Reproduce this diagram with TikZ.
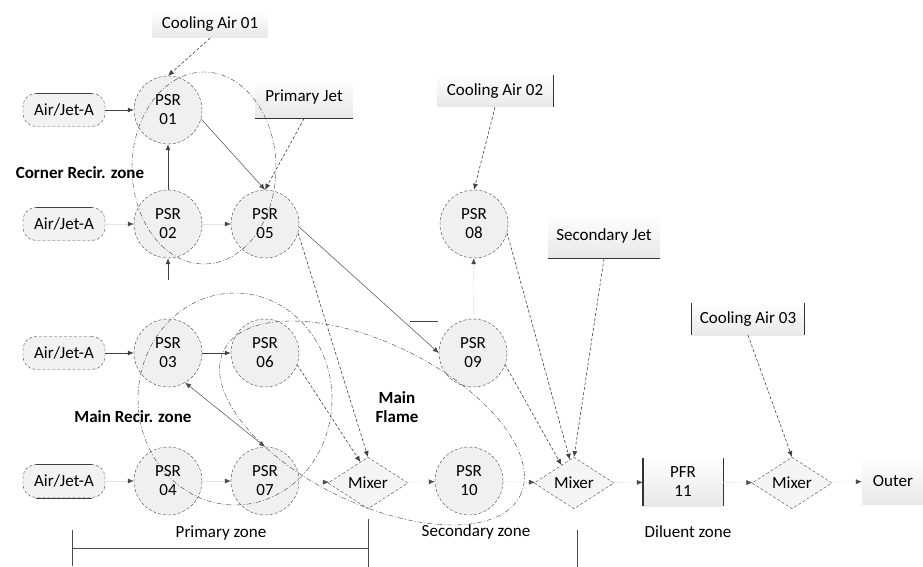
\documentclass[tikz,border=0pt]{standalone}
\usepackage{fontspec}
\setmainfont{Carlito}
\usetikzlibrary{shapes.geometric,arrows.meta}

\begin{document}
\begin{tikzpicture}[x=1pt,y=1pt,font=\fontsize{17}{19}\selectfont,
  >={Latex[length=6pt,width=5pt]},
  psr/.style={circle,draw=gray!55!black,densely dashed,fill=gray!12,minimum size=68pt,inner sep=0pt,align=center},
  mixer/.style={diamond,draw=gray!55!black,densely dashed,fill=gray!8,minimum width=80pt,minimum height=46pt,inner sep=0pt},
  feed/.style={rectangle,rounded corners=13pt,draw=gray!55!black,densely dashed,fill=gray!10,minimum width=82pt,minimum height=33pt,inner sep=0pt},
  src/.style={rectangle,top color=white,bottom color=gray!18,inner sep=0pt,align=center},
  zone/.style={draw=gray!50!black,thin,dash pattern=on 5pt off 2pt on 1pt off 2pt},
  flow/.style={->,draw=black!75,line width=0.8pt},
  thinflow/.style={->,draw=gray!60!black,line width=0.5pt},
  jetflow/.style={->,draw=gray!50!black,densely dashed,line width=0.6pt},
  faint/.style={-{Latex[length=6pt,width=5pt,color=black!70]},draw=gray!20},
  bar/.style={line width=1.4pt,draw=gray!40!black},
  lbl/.style={font=\fontsize{17}{19}\selectfont\bfseries,align=center}]
   \useasboundingbox (0,0) rectangle (923,-567);
   \node[src,minimum width=115pt,minimum height=28pt] (ca1) at (210,-24) {Cooling Air 01};
   \node[src,minimum width=97pt,minimum height=43pt] (pjet) at (304,-97) {Primary Jet};
   \node[src,minimum width=116pt,minimum height=32pt] (ca2) at (495,-91) {Cooling Air 02};
   \node[src,minimum width=112pt,minimum height=45pt] (sjet) at (604,-236) {Secondary Jet};
   \node[src,minimum width=113pt,minimum height=32pt] (ca3) at (748,-319) {Cooling Air 03};
   \node[src,minimum width=80pt,minimum height=48pt] (pfr11) at (683,-482) {PFR\\11};
   \node[src,minimum width=62pt,minimum height=47pt] (outer) at (893,-481) {Outer};
   \node[feed] (feed1) at (64,-110) {Air/Jet-A};
   \node[feed] (feed2) at (64,-224) {Air/Jet-A};
   \node[feed] (feed3) at (64,-353) {Air/Jet-A};
   \node[feed] (feed4) at (64,-481) {Air/Jet-A};
   \node[psr] (psr01) at (168,-110) {PSR\\01};
   \node[psr] (psr02) at (168,-224) {PSR\\02};
   \node[psr] (psr03) at (168,-353) {PSR\\03};
   \node[psr] (psr04) at (168,-481) {PSR\\04};
   \node[psr] (psr05) at (265,-224) {PSR\\05};
   \node[psr] (psr06) at (265,-353) {PSR\\06};
   \node[psr] (psr07) at (265,-481) {PSR\\07};
   \node[psr] (psr08) at (474,-224) {PSR\\08};
   \node[psr] (psr09) at (473,-353) {PSR\\09};
   \node[psr] (psr10) at (469,-481) {PSR\\10};
   \node[mixer] (mix1) at (368,-483) {Mixer};
   \node[mixer] (mix2) at (574,-483) {Mixer};
   \node[mixer] (mix3) at (792,-483) {Mixer};
   \draw[bar] (pjet.south west) -- (pjet.south east);
   \draw[bar] (ca2.north east) -- (ca2.south east);
   \draw[bar] (sjet.south west) -- (sjet.south east);
   \draw[bar] (ca3.north west) -- (ca3.south west);
   \draw[bar] (ca3.north east) -- (ca3.south east);
   \draw[bar] (pfr11.north west) -- (pfr11.south west);
   \draw[bar] (pfr11.north east) -- (pfr11.south east);
   \draw[black!75] ([xshift=13pt]feed1.north west) -- ([xshift=-13pt]feed1.north east);
   \draw[black!75] ([xshift=13pt]feed2.north west) -- ([xshift=-13pt]feed2.north east);
   \draw[black!75] ([xshift=13pt]feed4.north west) -- ([xshift=-13pt]feed4.north east);
   \draw[black!75] ([xshift=13pt]feed4.south west) -- ([xshift=-13pt]feed4.south east);
   \draw[zone] (204,-168) ellipse [x radius=72, y radius=96];
   \draw[zone] (235,-399) ellipse [x radius=97, y radius=106];
   \draw[zone] (372,-423) ellipse [x radius=165, y radius=80, rotate=-26];
   \coordinate (below02) at (168,-280);
   \draw[flow] (feed1) -- (psr01);
   \draw[flow] (feed3) -- (psr03);
   \draw[flow] (psr03) -- (psr06);
   \draw[flow] (psr02) -- (psr01);
   \draw[flow] (below02) -- (psr02);
   \draw[thinflow] (psr01.-15) -- (psr05.north);
   \draw[thinflow] (psr05.-5) -- (psr09.west);
   \draw[thinflow,<->] (psr03.-60) -- (psr07.north);
   \draw[jetflow] (ca1.south) -- (psr01.north);
   \draw[jetflow] (pjet.south) -- (psr05.north);
   \draw[jetflow] (psr05.-15) -- (mix1.north);
   \draw[jetflow] (psr06.-20) -- (mix1.110);
   \draw[jetflow] (ca2.south) -- (psr08.north);
   \draw[jetflow] (psr08.-15) -- (mix2.100);
   \draw[jetflow] (sjet.south) -- (mix2.north);
   \draw[jetflow] (psr09.-20) -- (mix2.125);
   \draw[jetflow] (ca3.south) -- (mix3.north);
   \draw[faint] (feed2) -- (psr02);
   \draw[faint] (psr02) -- (psr05);
   \draw[faint] (feed4) -- (psr04);
   \draw[faint] (psr04) -- (psr07);
   \draw[faint] (psr07) -- (mix1);
   \draw[faint] (mix1) -- (psr10);
   \draw[faint] (psr10) -- (mix2);
   \draw[faint] (mix2) -- (pfr11);
   \draw[faint] (pfr11) -- (mix3);
   \draw[faint] (mix3) -- (outer);
   \draw[faint] (psr09) -- (psr08);
   \draw[black!75] (410,-321) -- (438,-321);
   \node[lbl] (corner) at (80,-173) {Corner Recir. zone};
   \node[lbl] (mainrecir) at (133,-417) {Main Recir. zone};
   \node[lbl] (flame) at (397,-407) {Main\\Flame};
   \node (primzone) at (221,-533) {Primary zone};
   \node (seczone) at (476,-532) {Secondary zone};
   \node (dilzone) at (688,-532) {Diluent zone};
   \draw[black!70] (72,-548) -- (368,-548);
   \draw[black!70] (72,-530) -- (72,-566);
   \draw[black!70] (368,-519) -- (368,-567);
   \draw[black!70] (577,-530) -- (577,-567);
\end{tikzpicture}
\end{document}
